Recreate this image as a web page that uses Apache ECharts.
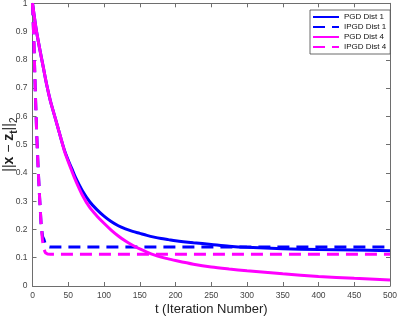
<!DOCTYPE html>
<html>
<head>
<meta charset="utf-8">
<script src="https://cdn.jsdelivr.net/npm/echarts@6/dist/echarts.min.js"></script>
<style>
html,body{margin:0;padding:0;background:#fff;}
#c{width:399px;height:317px;}
</style>
</head>
<body>
<div id="c"></div>
<script>
// ---- data ----
var seriesNames = ['PGD Dist 1', 'IPGD Dist 1', 'PGD Dist 4', 'IPGD Dist 4'];

var tPGD = [0, 5, 10, 15, 20, 25, 30, 35, 40, 45, 50, 55, 60, 70, 80, 90, 100, 110, 120, 130, 140, 150, 160, 170, 180, 190, 200, 225, 250, 275, 300, 350, 400, 450, 500];
var pgd1 = [1.0, 0.91, 0.84, 0.775, 0.71, 0.655, 0.61, 0.565, 0.52, 0.478, 0.445, 0.415, 0.385, 0.336, 0.298, 0.27, 0.247, 0.228, 0.213, 0.202, 0.193, 0.186, 0.179, 0.173, 0.168, 0.164, 0.16, 0.153, 0.147, 0.141, 0.137, 0.132, 0.129, 0.127, 0.125];
var pgd4 = [1.0, 0.91, 0.84, 0.775, 0.71, 0.655, 0.61, 0.565, 0.52, 0.475, 0.44, 0.407, 0.375, 0.32, 0.278, 0.248, 0.222, 0.198, 0.177, 0.159, 0.144, 0.131, 0.12, 0.11, 0.102, 0.096, 0.09, 0.077, 0.067, 0.06, 0.054, 0.043, 0.034, 0.027, 0.021];

var tIPGD1 = [0, 2, 4, 6, 8, 10, 12, 14, 16, 18, 20, 24, 500];
var ipgd1  = [1.0, 0.86, 0.68, 0.53, 0.41, 0.31, 0.22, 0.175, 0.165, 0.148, 0.14, 0.138, 0.138];

var tIPGD4 = [0, 2, 4, 6, 8, 10, 12, 14, 16, 18, 21, 25, 500];
var ipgd4  = [1.0, 0.86, 0.68, 0.53, 0.41, 0.31, 0.22, 0.16, 0.13, 0.118, 0.113, 0.112, 0.112];

var xTicks = [0, 50, 100, 150, 200, 250, 300, 350, 400, 450, 500];
var yTicks = [0, 0.1, 0.2, 0.3, 0.4, 0.5, 0.6, 0.7, 0.8, 0.9, 1];

function pairs(xs, ys) { return xs.map(function (x, i) { return [x, ys[i]]; }); }

var FONT = '"Liberation Sans", Arial, Helvetica, sans-serif';
var AXC = '#6e6e6e';
var chart = echarts.init(document.getElementById('c'), null, {renderer: 'canvas'});

var baseX = {
  type: 'value', min: xTicks[0], max: xTicks[xTicks.length - 1], interval: 50,
  splitLine: {show: false},
  axisLine: {show: true, onZero: false, lineStyle: {color: AXC, width: 1}},
  axisTick: {show: true, inside: true, length: 4, lineStyle: {color: AXC}}
};
var baseY = {
  type: 'value', min: yTicks[0], max: yTicks[yTicks.length - 1], interval: 0.1,
  splitLine: {show: false},
  axisLine: {show: true, onZero: false, lineStyle: {color: AXC, width: 1}},
  axisTick: {show: true, inside: true, length: 4, lineStyle: {color: AXC}}
};

var option = {
  backgroundColor: '#fff',
  animation: false,
  grid: {left: 32.5, right: 9, top: 3.3, bottom: 31, containLabel: false, outerBoundsMode: 'none'},
  legend: {
    orient: 'vertical', left: 310, top: 10,
    data: seriesNames,
    itemWidth: 26, itemHeight: 8, itemGap: 2,
    padding: [3, 4, 3, 2],
    borderColor: '#444', borderWidth: 0.8, backgroundColor: '#fff',
    itemStyle: {opacity: 0},
    textStyle: {fontSize: 8, color: '#111', fontFamily: FONT}
  },
  xAxis: [
    Object.assign({}, baseX, {
      position: 'bottom',
      axisLabel: {show: true, fontSize: 8.5, color: '#444', fontFamily: FONT, margin: 5},
      name: 't (Iteration Number)', nameLocation: 'middle', nameGap: 17, nameMoveOverlap: false,
      nameTextStyle: {fontSize: 13, color: '#222', fontFamily: FONT}
    }),
    Object.assign({}, baseX, {position: 'top', axisLabel: {show: false}})
  ],
  yAxis: [
    Object.assign({}, baseY, {
      position: 'left',
      axisLabel: {show: true, fontSize: 8.5, color: '#444', fontFamily: FONT, margin: 5},
      name: '||{b|x} − {b|z}{bs|t}||{s|2}', nameLocation: 'middle', nameGap: 23.5, nameRotate: 90,
      nameMoveOverlap: false,
      nameTextStyle: {
        fontSize: 14, color: '#222', fontFamily: FONT, lineHeight: 20, verticalAlign: 'middle',
        rich: {
          b: {fontSize: 14, fontWeight: 'bold', color: '#222', fontFamily: FONT, lineHeight: 20},
          bs: {fontSize: 10, fontWeight: 'bold', color: '#222', fontFamily: FONT, lineHeight: 9, verticalAlign: 'bottom'},
          s: {fontSize: 10, color: '#222', fontFamily: FONT, lineHeight: 9, verticalAlign: 'bottom'}
        }
      }
    }),
    Object.assign({}, baseY, {position: 'right', axisLabel: {show: false}})
  ],
  series: [
    {name: seriesNames[0], type: 'line', data: pairs(tPGD, pgd1), xAxisIndex: 0, yAxisIndex: 0,
     showSymbol: false, symbol: 'none', smooth: 0.3,
     lineStyle: {color: '#0000ff', width: 3}, itemStyle: {color: '#0000ff'}},
    {name: seriesNames[1], type: 'line', data: pairs(tIPGD1, ipgd1), xAxisIndex: 0, yAxisIndex: 0,
     showSymbol: false, symbol: 'none', smooth: false,
     lineStyle: {color: '#0000ff', width: 3, type: [12, 7]}, itemStyle: {color: '#0000ff'}},
    {name: seriesNames[2], type: 'line', data: pairs(tPGD, pgd4), xAxisIndex: 0, yAxisIndex: 0,
     showSymbol: false, symbol: 'none', smooth: 0.3,
     lineStyle: {color: '#ff00ff', width: 3}, itemStyle: {color: '#ff00ff'}},
    {name: seriesNames[3], type: 'line', data: pairs(tIPGD4, ipgd4), xAxisIndex: 0, yAxisIndex: 0,
     showSymbol: false, symbol: 'none', smooth: false,
     lineStyle: {color: '#ff00ff', width: 3, type: [12, 7]}, itemStyle: {color: '#ff00ff'}}
  ]
};
chart.setOption(option);
</script>
</body>
</html>
